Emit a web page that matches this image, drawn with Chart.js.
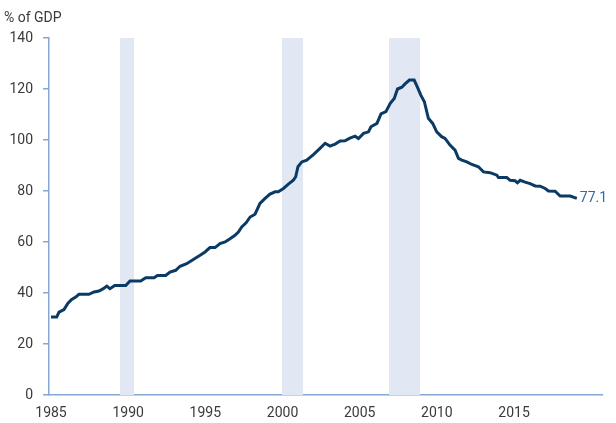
<!DOCTYPE html>
<html>
<head>
<meta charset="utf-8">
<script src="https://cdn.jsdelivr.net/npm/chart.js@4.4.1/dist/chart.umd.min.js"></script>
<style>
html,body{margin:0;padding:0;background:#fff;}
#wrap{width:616px;height:423px;}
</style>
</head>
<body>
<div id="wrap"><canvas id="c" width="616" height="423"></canvas></div>
<script>
// Data
const years = [1985.0,1985.37,1985.52,1985.84,1986.10,1986.32,1986.60,1986.81,1987.46,1987.79,1988.11,1988.39,1988.61,1988.82,1989.13,1989.84,1990.12,1990.81,1991.14,1991.68,1991.89,1992.43,1992.71,1993.08,1993.36,1993.79,1994.22,1994.66,1994.98,1995.30,1995.63,1995.95,1996.28,1996.60,1996.92,1997.14,1997.36,1997.64,1997.90,1998.22,1998.54,1998.87,1999.19,1999.52,1999.73,2000.06,2000.38,2000.70,2000.85,2001.00,2001.25,2001.57,2002.00,2002.43,2002.76,2003.08,2003.41,2003.73,2004.05,2004.33,2004.70,2004.92,2005.25,2005.57,2005.73,2006.12,2006.38,2006.70,2006.98,2007.24,2007.45,2007.73,2007.94,2008.22,2008.53,2008.74,2008.96,2009.19,2009.45,2009.73,2009.99,2010.31,2010.53,2010.85,2011.18,2011.40,2011.62,2011.94,2012.27,2012.69,2013.02,2013.45,2013.89,2013.99,2014.53,2014.75,2015.07,2015.22,2015.40,2015.72,2016.04,2016.37,2016.69,2017.02,2017.23,2017.66,2017.99,2018.64,2019.07];
const debtPctGDP = [30.6,30.6,32.5,33.5,36.0,37.4,38.4,39.5,39.5,40.4,40.8,41.7,42.7,41.7,42.9,42.9,44.7,44.7,46.0,46.0,46.9,46.9,48.2,48.9,50.5,51.5,53.1,54.8,56.1,57.8,57.8,59.4,60.0,61.3,62.6,63.9,65.9,67.5,69.8,70.9,75.1,77.1,78.8,79.7,79.7,81.0,82.7,84.2,85.5,89.5,91.4,92.1,94.3,96.7,98.7,97.6,98.4,99.6,99.7,100.6,101.5,100.6,102.6,103.2,105.2,106.5,110.2,111.1,114.4,116.3,120.0,120.7,122.0,123.5,123.5,120.7,117.6,115.0,108.5,106.5,103.2,101.3,100.6,98.0,96.0,92.8,92.1,91.4,90.4,89.5,87.5,87.2,86.2,85.3,85.3,84.2,84.0,83.2,84.2,83.5,82.9,82.0,81.9,81.0,80.0,79.9,78.0,78.0,77.1];
const recessionStart = [1989.47, 1999.97, 2006.90];
const recessionEnd   = [1990.38, 2001.33, 2008.91];
const xTickLabels = [1985, 1990, 1995, 2000, 2005, 2010, 2015];
const yTicks = [0, 20, 40, 60, 80, 100, 120, 140];
const unitLabel = '% of GDP';
const lastLabel = '77.1';

const FONT = "'Roboto', 'Liberation Sans', sans-serif";
const AXIS = '#86a6d4';
const LINE = '#0b3a66';
const TEXT = '#3a3a3a';

const points = years.map((y, i) => ({x: y, y: debtPctGDP[i]}));

const bands = {
  id: 'bands',
  beforeDatasetsDraw(chart) {
    const {ctx, chartArea, scales} = chart;
    ctx.save();
    ctx.fillStyle = '#e1e8f3';
    recessionStart.forEach((s, i) => {
      const x0 = scales.x.getPixelForValue(s);
      const x1 = scales.x.getPixelForValue(recessionEnd[i]);
      ctx.fillRect(x0, chartArea.top, x1 - x0, chartArea.bottom - chartArea.top);
    });
    ctx.restore();
  }
};

const extras = {
  id: 'extras',
  afterDraw(chart) {
    const {ctx, scales} = chart;
    ctx.save();
    ctx.fillStyle = TEXT;
    ctx.font = '14px ' + FONT;
    ctx.textBaseline = 'middle';
    ctx.textAlign = 'left';
    ctx.fillText(unitLabel, 4, 18);
    const n = years.length - 1;
    const px = scales.x.getPixelForValue(years[n]);
    const py = scales.y.getPixelForValue(debtPctGDP[n]);
    ctx.fillStyle = '#2f6aa6';
    ctx.fillText(lastLabel, px + 3, py);
    ctx.restore();
  }
};

new Chart(document.getElementById('c'), {
  type: 'line',
  data: {
    datasets: [{
      data: points,
      borderColor: LINE,
      borderWidth: 3,
      pointRadius: 0,
      tension: 0,
      fill: false
    }]
  },
  options: {
    responsive: false,
    animation: false,
    layout: {padding: {left: 0, right: 14, top: 38, bottom: 0}},
    plugins: {legend: {display: false}, tooltip: {enabled: false}},
    scales: {
      x: {
        type: 'linear',
        min: 1984.87,
        max: 2020.7,
        afterBuildTicks(scale) { scale.ticks = xTickLabels.map(v => ({value: v})); },
        ticks: {
          color: TEXT,
          font: {family: FONT, size: 14},
          maxRotation: 0,
          autoSkip: false,
          padding: 10,
          callback: v => String(v)
        },
        grid: {display: true, drawOnChartArea: false, drawTicks: false, color: AXIS},
        border: {color: AXIS, width: 1.5},
        afterFit(scale) { scale.height = 28; }
      },
      y: {
        min: 0,
        max: 140,
        afterBuildTicks(scale) { scale.ticks = yTicks.map(v => ({value: v})); },
        ticks: {
          color: TEXT,
          font: {family: FONT, size: 14},
          padding: 10,
          callback: v => String(v)
        },
        grid: {display: true, drawOnChartArea: false, drawTicks: true, tickLength: 6, color: AXIS, lineWidth: 1.5},
        border: {color: AXIS, width: 1.5},
        afterFit(scale) { scale.width = 49; }
      }
    }
  },
  plugins: [bands, extras]
});
</script>
</body>
</html>
